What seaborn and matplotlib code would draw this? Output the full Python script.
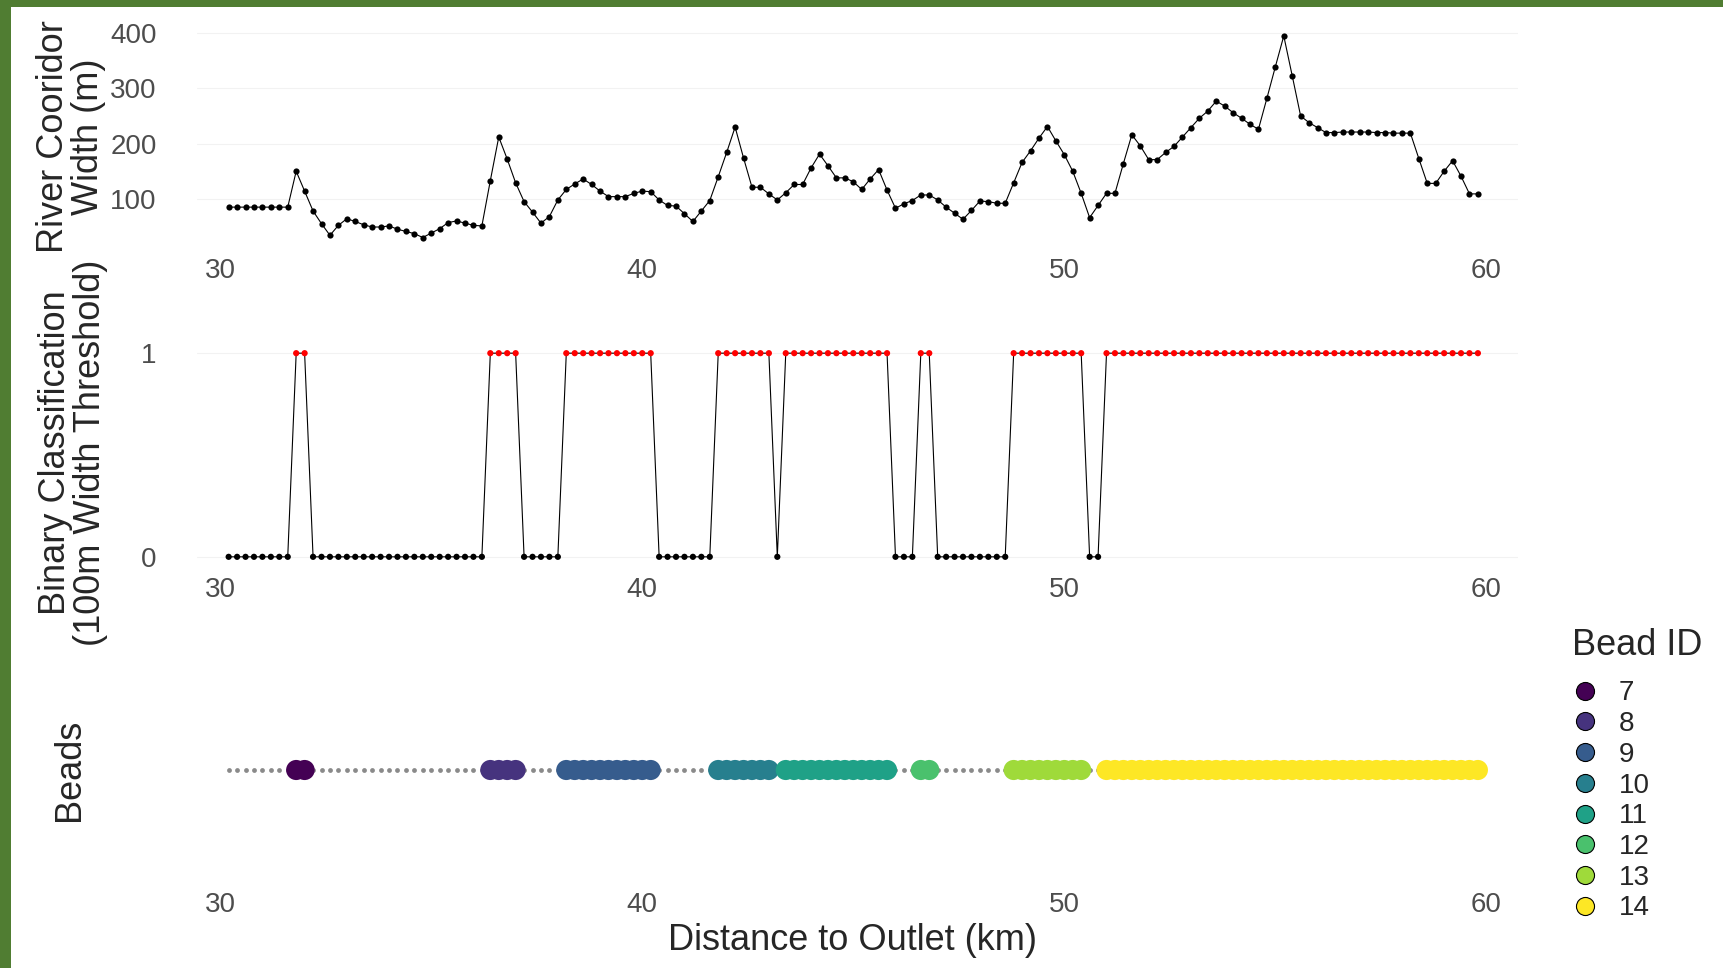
import numpy as np
import pandas as pd
import matplotlib
matplotlib.use("Agg")
import matplotlib.pyplot as plt
from matplotlib.lines import Line2D
from matplotlib.patches import Rectangle
import seaborn as sns

sns.set_theme(style="white")
plt.rcParams["font.family"] = ["Liberation Sans", "DejaVu Sans"]

# ---------------- data ----------------
distance_km = [
    30.2, 30.4, 30.6, 30.8, 31.0, 31.2, 31.4, 31.6, 31.8, 32.0,
    32.2, 32.4, 32.6, 32.8, 33.0, 33.2, 33.4, 33.6, 33.8, 34.0,
    34.2, 34.4, 34.6, 34.8, 35.0, 35.2, 35.4, 35.6, 35.8, 36.0,
    36.2, 36.4, 36.6, 36.8, 37.0, 37.2, 37.4, 37.6, 37.8, 38.0,
    38.2, 38.4, 38.6, 38.8, 39.0, 39.2, 39.4, 39.6, 39.8, 40.0,
    40.2, 40.4, 40.6, 40.8, 41.0, 41.2, 41.4, 41.6, 41.8, 42.0,
    42.2, 42.4, 42.6, 42.8, 43.0, 43.2, 43.4, 43.6, 43.8, 44.0,
    44.2, 44.4, 44.6, 44.8, 45.0, 45.2, 45.4, 45.6, 45.8, 46.0,
    46.2, 46.4, 46.6, 46.8, 47.0, 47.2, 47.4, 47.6, 47.8, 48.0,
    48.2, 48.4, 48.6, 48.8, 49.0, 49.2, 49.4, 49.6, 49.8, 50.0,
    50.2, 50.4, 50.6, 50.8, 51.0, 51.2, 51.4, 51.6, 51.8, 52.0,
    52.2, 52.4, 52.6, 52.8, 53.0, 53.2, 53.4, 53.6, 53.8, 54.0,
    54.2, 54.4, 54.6, 54.8, 55.0, 55.2, 55.4, 55.6, 55.8, 56.0,
    56.2, 56.4, 56.6, 56.8, 57.0, 57.2, 57.4, 57.6, 57.8, 58.0,
    58.2, 58.4, 58.6, 58.8, 59.0, 59.2, 59.4, 59.6, 59.8,
]
width_m = [
    85, 85, 85, 85, 85, 85, 85, 85, 150, 114,
    78, 55, 34, 52, 64, 59, 53, 49, 49, 51,
    45, 41, 37, 30, 38, 46, 57, 60, 56, 52,
    51, 133, 212, 172, 129, 95, 76, 56, 68, 98,
    117, 127, 136, 126, 114, 104, 104, 104, 110, 114,
    113, 98, 88, 87, 73, 59, 78, 97, 140, 184,
    230, 174, 121, 121, 109, 98, 111, 126, 126, 156,
    181, 160, 138, 138, 131, 117, 136, 153, 116, 83,
    91, 97, 107, 107, 98, 85, 74, 63, 79, 96,
    95, 92, 92, 129, 166, 187, 210, 231, 205, 180,
    150, 110, 66, 88, 110, 110, 164, 216, 196, 171,
    171, 184, 195, 212, 229, 246, 259, 277, 268, 256,
    246, 235, 226, 282, 339, 395, 323, 250, 238, 229,
    220, 220, 221, 221, 221, 221, 220, 220, 219, 219,
    219, 173, 128, 128, 150, 169, 141, 109, 109,
]
WIDTH_THRESHOLD = 100

bead_ids = [7, 8, 9, 10, 11, 12, 13, 14]
bead_start_km = [31.8, 36.4, 38.2, 41.8, 43.4, 46.6, 48.8, 51.0]
bead_end_km = [32.0, 37.0, 40.2, 43.0, 45.8, 46.8, 50.4, 59.8]
bead_colors = ["#440154", "#46337E", "#365C8D", "#277F8E",
               "#1FA187", "#4AC16D", "#9FDA3A", "#FDE725"]

x_ticks = [30, 40, 50, 60]
width_ticks = [100, 200, 300, 400]
class_ticks = [0, 1]

df = pd.DataFrame({"dist": distance_km, "width": width_m})
df["cls"] = (df["width"] > WIDTH_THRESHOLD).astype(int)
df["bead"] = 0
for b, s, e in zip(bead_ids, bead_start_km, bead_end_km):
    df.loc[(df["dist"] >= s - 1e-6) & (df["dist"] <= e + 1e-6), "bead"] = b
df["row"] = 0.0
beads = df[df["bead"] > 0]

# ---------------- figure ----------------
W, H = 1724, 968
fig = plt.figure(figsize=(W / 100, H / 100), dpi=100)
fig.patch.set_facecolor("white")


def px_axes(left, top, right, bottom):
    return fig.add_axes([left / W, 1 - bottom / H, (right - left) / W, (bottom - top) / H])


ax1 = px_axes(197, 26, 1518, 248)
ax2 = px_axes(197, 343, 1518, 567)
ax3 = px_axes(197, 658, 1518, 882)

TICK_COLOR = "#4D4D4D"
for ax in (ax1, ax2, ax3):
    for sp in ax.spines.values():
        sp.set_visible(False)
    ax.set_facecolor("white")
    ax.set_xlim(29.45, 60.75)
    ax.set_xticks(x_ticks)
    ax.tick_params(axis="x", length=0, pad=7.5, labelsize=20, labelcolor=TICK_COLOR)
    ax.tick_params(axis="y", length=0, pad=29, labelsize=20, labelcolor=TICK_COLOR)
    ax.grid(False)
    ax.set_axisbelow(True)

# Panel 1: width
for yv in width_ticks:
    ax1.axhline(yv, color="#F2F2F2", lw=0.8, zorder=0)
sns.lineplot(data=df, x="dist", y="width", ax=ax1, color="black", lw=0.8)
sns.scatterplot(data=df, x="dist", y="width", ax=ax1, color="black", s=20, linewidth=0, zorder=3)
ax1.set_ylim(11, 413)
ax1.set_yticks(width_ticks)
ax1.set_xlabel("")
ax1.set_ylabel("")

# Panel 2: binary classification
for yv in class_ticks:
    ax2.axhline(yv, color="#F2F2F2", lw=0.8, zorder=0)
sns.lineplot(data=df, x="dist", y="cls", ax=ax2, color="black", lw=0.8)
sns.scatterplot(data=df, x="dist", y="cls", hue="cls", palette={0: "black", 1: "#FF0000"},
                ax=ax2, s=20, linewidth=0, legend=False, zorder=3)
ax2.set_ylim(-0.05, 1.05)
ax2.set_yticks(class_ticks)
ax2.set_xlabel("")
ax2.set_ylabel("")

# Panel 3: beads
sns.scatterplot(data=df, x="dist", y="row", ax=ax3, color="#8A8A8A", s=12, linewidth=0, zorder=2)
sns.scatterplot(data=beads, x="dist", y="row", hue="bead",
                palette=dict(zip(bead_ids, bead_colors)), ax=ax3, s=210,
                linewidth=0, legend=False, zorder=3)
ax3.set_ylim(-1, 1)
ax3.set_yticks([])
ax3.set_xlabel("")
ax3.set_ylabel("")

# Axis titles
fig.text(71.5 / W, 1 - 137 / H, "River Cooridor\nWidth (m)", rotation=90,
         ha="center", va="center", fontsize=26, linespacing=1.0, multialignment="center")
fig.text(73 / W, 1 - 453 / H, "Binary Classification\n(100m Width Threshold)", rotation=90,
         ha="center", va="center", fontsize=26, linespacing=1.0, multialignment="center")
fig.text(70 / W, 1 - 770 / H, "Beads", rotation=90, ha="center", va="center", fontsize=26)
fig.text(853 / W, 1 - 940 / H, "Distance to Outlet (km)", ha="center", va="center", fontsize=26)

# Legend
handles = [Line2D([], [], marker="o", ls="", markerfacecolor=c, markeredgecolor="black",
                  markeredgewidth=0.8, markersize=13) for c in bead_colors]
leg = fig.legend(handles, [str(b) for b in bead_ids], title="Bead ID",
                 loc="upper left", bbox_to_anchor=(1572 / W, 1 - 628 / H),
                 frameon=False, fontsize=20, title_fontsize=26,
                 labelspacing=0.17, handlelength=0.95, handletextpad=0.72,
                 borderpad=0, borderaxespad=0, alignment="left")
leg._legend_box.sep = 12.5

# Green frame
fig.patches.append(Rectangle((0, 0), 11 / W, 1, transform=fig.transFigure,
                             facecolor="#507D32", edgecolor="none", zorder=10))
fig.patches.append(Rectangle((0, 1 - 7 / H), 1, 7 / H, transform=fig.transFigure,
                             facecolor="#507D32", edgecolor="none", zorder=10))

fig.savefig("out.png", dpi=100)
